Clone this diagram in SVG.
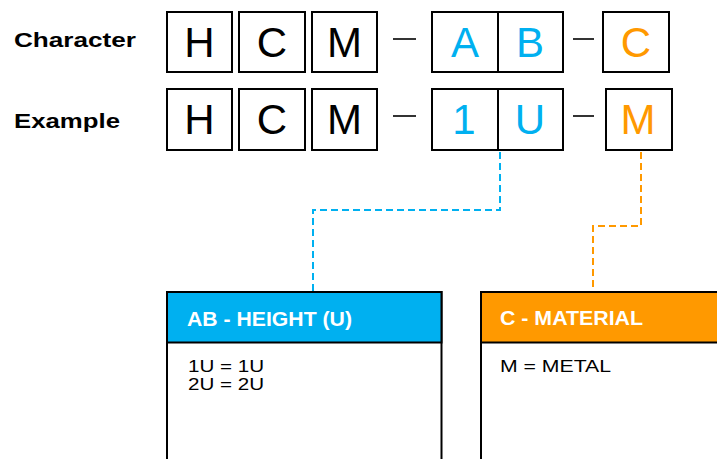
<svg xmlns="http://www.w3.org/2000/svg" width="717" height="459" viewBox="0 0 717 459">
<style>
.lbl{font-family:"Liberation Sans",Arial,sans-serif;font-weight:bold;font-size:21px;fill:#000}
.box{fill:#fff;stroke:#000;stroke-width:2}
.ch{font-family:"Liberation Sans",Arial,sans-serif;font-size:42px;text-anchor:middle}
.k{fill:#000}.b{fill:#00B0F0}.o{fill:#FF9900}
.dash{stroke:#000;stroke-width:1.6}
.hd{font-family:"Liberation Sans",Arial,sans-serif;font-weight:bold;font-size:20px;fill:#fff}
.bd{font-family:"Liberation Sans",Arial,sans-serif;font-size:16px;fill:#000}
.conn{fill:none;stroke-width:2;stroke-dasharray:7 4}
</style>
<rect width="717" height="459" fill="#fff"/>
<g id="labels">
<text class="lbl" x="14" y="47" textLength="122" lengthAdjust="spacingAndGlyphs">Character</text>
<text class="lbl" x="14" y="128" textLength="106" lengthAdjust="spacingAndGlyphs">Example</text>
</g>
<g id="row-character">
<rect class="box" x="167" y="12" width="65" height="60"/>
<rect class="box" x="239" y="12" width="66" height="60"/>
<rect class="box" x="312" y="12" width="65" height="60"/>
<rect class="box" x="432" y="12" width="131" height="60"/>
<line x1="498" y1="12" x2="498" y2="72" stroke="#000" stroke-width="2"/>
<rect class="box" x="603" y="12" width="66" height="60"/>
<line class="dash" x1="393" y1="39" x2="416" y2="39"/>
<line class="dash" x1="573" y1="39" x2="594" y2="39"/>
<text class="ch k" x="199.5" y="57">H</text>
<text class="ch k" x="272" y="57">C</text>
<text class="ch k" x="344.5" y="57">M</text>
<text class="ch b" x="465" y="57">A</text>
<text class="ch b" x="530" y="57">B</text>
<text class="ch o" x="636" y="57">C</text>
</g>
<g id="row-example">
<rect class="box" x="167" y="89" width="65" height="61"/>
<rect class="box" x="239" y="89" width="66" height="61"/>
<rect class="box" x="312" y="89" width="65" height="61"/>
<rect class="box" x="432" y="89" width="131" height="61"/>
<line x1="498" y1="89" x2="498" y2="150" stroke="#000" stroke-width="2"/>
<rect class="box" x="606" y="89" width="66" height="61"/>
<line class="dash" x1="393" y1="116" x2="416" y2="116"/>
<line class="dash" x1="573" y1="116" x2="594" y2="116"/>
<text class="ch k" x="199.5" y="134">H</text>
<text class="ch k" x="272" y="134">C</text>
<text class="ch k" x="344.5" y="134">M</text>
<text class="ch b" x="464" y="134">1</text>
<text class="ch b" x="530" y="134">U</text>
<text class="ch o" x="638" y="134">M</text>
</g>
<g id="connectors">
<path class="conn" stroke="#00B0F0" d="M500,152 V210 H313 V292"/>
<path class="conn" stroke="#FF9900" d="M641,152 V226 H593 V292"/>
</g>
<g id="node-height">
<rect x="167" y="292" width="274.5" height="180" fill="#fff" stroke="#000" stroke-width="2"/>
<rect x="167" y="292" width="274.5" height="50.5" fill="#00B0F0" stroke="#000" stroke-width="2"/>
<text class="hd" x="187" y="326" textLength="165" lengthAdjust="spacingAndGlyphs">AB - HEIGHT (U)</text>
<text class="bd"><tspan x="188" y="372" textLength="76" lengthAdjust="spacingAndGlyphs">1U = 1U</tspan><tspan x="188" y="390" textLength="76" lengthAdjust="spacingAndGlyphs">2U = 2U</tspan></text>
</g>
<g id="node-material">
<rect x="481" y="292" width="260" height="180" fill="#fff" stroke="#000" stroke-width="2"/>
<rect x="481" y="292" width="260" height="50.5" fill="#FF9900" stroke="#000" stroke-width="2"/>
<text class="hd" x="500" y="325" textLength="143" lengthAdjust="spacingAndGlyphs">C - MATERIAL</text>
<text class="bd" x="500" y="372" textLength="111" lengthAdjust="spacingAndGlyphs">M = METAL</text>
</g>
</svg>
